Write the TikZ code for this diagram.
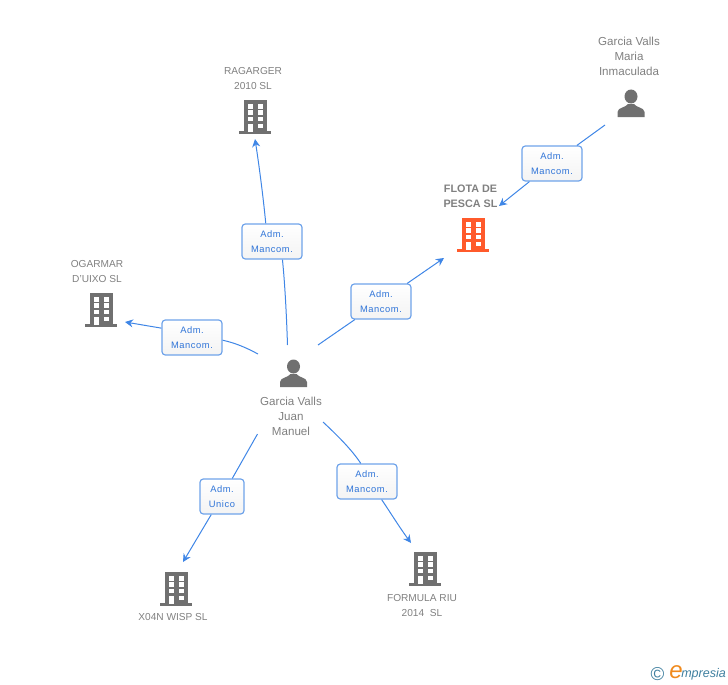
\documentclass[tikz,border=0pt]{standalone}
\usepackage{fontspec}
\usetikzlibrary{arrows.meta}
\setmainfont{Liberation Sans}
\newfontfamily\cargofont[LetterSpace=6]{Liberation Sans}
\definecolor{icongray}{HTML}{707070}
\definecolor{iconorange}{HTML}{FF5A2B}
\definecolor{textgray}{HTML}{808080}
\definecolor{linkblue}{HTML}{3F86E6}
\definecolor{boxblue}{HTML}{6FA3EA}
\definecolor{cargoblue}{HTML}{2F74D8}
\definecolor{logoteal}{HTML}{3F7F9F}
\definecolor{logoorange}{HTML}{F08A1D}
\tikzset{
	pics/building/.style={code={
		\fill[#1] (-11.5,0) rectangle (11.5,32);
		\fill[#1] (-16,31) rectangle (16,34);
		\foreach \y/\h in {3.7/5, 10/4.7, 17/4.4} {
			\fill[white] (-6.7,\y) rectangle ++(5,\h);
			\fill[white] (2.5,\y) rectangle ++(5,\h);
		}
		\fill[white] (-6.7,23.7) rectangle (-1.7,32);
		\fill[white] (2.5,23.7) rectangle (7.5,28);
	}},
	pics/person/.style={code={
		\fill[icongray] (0,6.5) ellipse (6.5 and 7);
		\fill[icongray] (-13.5,27) -- (-13.5,22) .. controls (-13.5,17.5) and (-5,17.5) .. (-3,14)
			-- (3,14) .. controls (5,17.5) and (13.5,17.5) .. (13.5,22) -- (13.5,27) -- cycle;
	}}
}
\begin{document}
\begin{tikzpicture}[x=0.75pt, y=-0.75pt, font=\fontsize{7.6}{11.25}\selectfont]
	% Estilos
	\tikzstyle{entity} = [text=textgray, align=center, inner sep=0pt]
	\tikzstyle{human} = [entity, font=\fontsize{8.7}{11.25}\selectfont]
	\tikzstyle{cargo} = [draw=boxblue, line width=0.9pt, rounded corners=2.5pt, top color=white,
		bottom color=gray!9, text=cargoblue, align=center, inner sep=0pt, minimum height=26.25pt,
		font=\fontsize{7}{11.25}\cargofont]
	\tikzstyle{line} = [draw=linkblue, line width=0.75pt]
	\tikzstyle{arrow} = [line, -{Stealth[length=6pt, width=6pt]}]

	\useasboundingbox (0,0) rectangle (728,685);

	% Iconos
	\pic at (255,100) {building=icongray};
	\pic at (473,218) {building=iconorange};
	\pic at (101,293) {building=icongray};
	\pic at (425,552) {building=icongray};
	\pic at (176,572) {building=icongray};
	\pic at (631,90) {person};
	\pic at (293.5,360) {person};

	% Nombres
	\node [entity] (ragarger) at (253,78.5) {RAGARGER\\2010 SL};
	\node [human] (maria) at (629,56) {Garcia Valls\\Maria\\Inmaculada};
	\node [entity, font=\fontsize{8.1}{11.25}\selectfont\bfseries] (flota) at (470.5,196.5) {FLOTA DE\\PESCA SL};
	\node [entity] (ogarmar) at (97,271.5) {OGARMAR\\D'UIXO SL};
	\node [human] (juan) at (291,416) {Garcia Valls\\Juan\\Manuel};
	\node [entity] (formula) at (422,605.5) {FORMULA RIU\\2014 \ SL};
	\node [entity] (xwisp) at (173,617) {X04N WISP SL};

	% Cargos
	\node [cargo, minimum width=45pt] (cargomaria) at (552,163.5) {Adm.\\Mancom.};
	\node [cargo, minimum width=45pt] (cargoragarger) at (272,241.5) {Adm.\\Mancom.};
	\node [cargo, minimum width=45pt] (cargoflota) at (381,301.5) {Adm.\\Mancom.};
	\node [cargo, minimum width=45pt] (cargoogarmar) at (192,337.5) {Adm.\\Mancom.};
	\node [cargo, minimum width=45pt] (cargoformula) at (367,481.5) {Adm.\\Mancom.};
	\node [cargo, minimum width=33pt] (cargoxwisp) at (222,496.5) {Adm.\\Unico};

	% Extremos
	\coordinate (mariaout) at (605,125);
	\coordinate (flotain) at (499,206);
	\coordinate (juanup) at (287.5,345);
	\coordinate (juanright) at (318,345);
	\coordinate (juanleft) at (258,354);
	\coordinate (juandown) at (323,422);
	\coordinate (juanbelow) at (257.5,434);
	\coordinate (ragargerin) at (255,139);
	\coordinate (flotaright) at (444,258);
	\coordinate (ogarmarin) at (125,322);
	\coordinate (formulain) at (411,543);
	\coordinate (xwispin) at (183,562);

	% Conexiones
	\path [line] (mariaout) -- (cargomaria);
	\path [arrow] (cargomaria) -- (flotain);
	\path [line] (juanup) .. controls (286.5,315) and (285,285) .. (cargoragarger.-60);
	\path [arrow] (cargoragarger.109) .. controls (263,195) and (259,165) .. (ragargerin);
	\path [line] (juanright) -- (cargoflota);
	\path [arrow] (cargoflota) -- (flotaright);
	\path [line] (juanleft) .. controls (245,347) and (235,343) .. (cargoogarmar.-5);
	\path [arrow] (cargoogarmar.163) -- (ogarmarin);
	\path [line] (juandown) .. controls (338,436) and (352,450) .. (cargoformula.109);
	\path [arrow] (cargoformula.-51) .. controls (390,512) and (400,528) .. (formulain);
	\path [line] (juanbelow) -- (cargoxwisp);
	\path [arrow] (cargoxwisp) -- (xwispin);

	% Logo
	\node [text=logoteal, inner sep=0pt, font=\fontsize{14}{16}\selectfont] (copyr) at (657.5,674) {©};
	\node [text=logoorange, inner sep=0pt, font=\fontsize{18}{18}\selectfont\itshape] (logoe) at (676,672) {e};
	\node [text=logoteal, inner sep=0pt, anchor=west, font=\fontsize{9.4}{11}\selectfont\itshape] (logotext) at (681,674) {mpresia};
\end{tikzpicture}
\end{document}
